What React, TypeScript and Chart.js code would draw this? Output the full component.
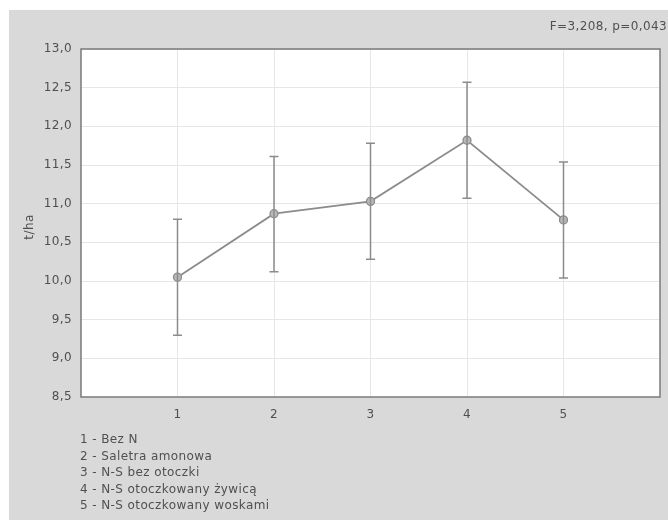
import React, { useEffect, useRef } from "react";
import { Chart, registerables } from "chart.js";

Chart.register(...registerables);

const categories = [1, 2, 3, 4, 5];
const means = [10.05, 10.87, 11.03, 11.82, 10.79];
const lowerBounds = [9.3, 10.12, 10.28, 11.07, 10.04];
const upperBounds = [10.8, 11.61, 11.78, 12.57, 11.54];
const legendLines = [
  "1 - Bez N",
  "2 - Saletra amonowa",
  "3 - N-S bez otoczki",
  "4 - N-S otoczkowany żywicą",
  "5 - N-S otoczkowany woskami",
];
const statsText = "F=3,208, p=0,043";
const yTitle = "t/ha";

const FONT = "'DejaVu Sans', sans-serif";

const decorPlugin = {
  id: "decor",
  beforeDraw(chart: any) {
    const { ctx, chartArea, width, height } = chart;
    ctx.letterSpacing = "0.4px";
    ctx.save();
    ctx.fillStyle = "#ffffff";
    ctx.fillRect(0, 0, width, height);
    ctx.fillStyle = "#d9d9d9";
    ctx.fillRect(9, 10, width - 9, height - 10);
    ctx.fillStyle = "#ffffff";
    ctx.fillRect(chartArea.left, chartArea.top, chartArea.right - chartArea.left, chartArea.bottom - chartArea.top);
    ctx.restore();
  },
  afterDatasetsDraw(chart: any) {
    const { ctx } = chart;
    const xs = chart.scales.x;
    const ys = chart.scales.y;
    ctx.save();
    ctx.strokeStyle = "#8c8c8c";
    ctx.lineWidth = 1.5;
    categories.forEach((c, i) => {
      const x = xs.getPixelForValue(c);
      const yt = ys.getPixelForValue(upperBounds[i]);
      const yb = ys.getPixelForValue(lowerBounds[i]);
      ctx.beginPath();
      ctx.moveTo(x, yt);
      ctx.lineTo(x, yb);
      ctx.moveTo(x - 4.5, yt);
      ctx.lineTo(x + 4.5, yt);
      ctx.moveTo(x - 4.5, yb);
      ctx.lineTo(x + 4.5, yb);
      ctx.stroke();
    });
    ctx.restore();
  },
  afterDraw(chart: any) {
    const { ctx, chartArea } = chart;
    ctx.save();
    ctx.strokeStyle = "#7a7a7a";
    ctx.lineWidth = 1.5;
    ctx.strokeRect(chartArea.left, chartArea.top, chartArea.right - chartArea.left, chartArea.bottom - chartArea.top);
    ctx.fillStyle = "#505050";
    ctx.font = `12px ${FONT}`;
    ctx.letterSpacing = "0.4px";
    ctx.textAlign = "right";
    ctx.textBaseline = "middle";
    ctx.fillText(statsText, 667, 27);
    ctx.textAlign = "left";
    legendLines.forEach((t, i) => {
      ctx.fillText(t, 80, 440 + i * 16.5);
    });
    ctx.translate(30, 227);
    ctx.rotate(-Math.PI / 2);
    ctx.textAlign = "center";
    ctx.fillText(yTitle, 0, 0);
    ctx.restore();
  },
};

export default function App() {
  const ref = useRef<HTMLCanvasElement>(null);
  useEffect(() => {
    document.body.style.margin = "0";
    const chart = new Chart(ref.current!, {
      type: "line",
      data: {
        datasets: [
          {
            data: categories.map((c, i) => ({ x: c, y: means[i] })),
            borderColor: "#8c8c8c",
            borderWidth: 1.8,
            pointRadius: 4,
            pointBackgroundColor: "#b8b8b8",
            pointBorderColor: "#8c8c8c",
            pointBorderWidth: 1.3,
            tension: 0,
          },
        ],
      },
      options: {
        animation: false,
        responsive: false,
        layout: { padding: { top: 49, right: 8, left: 0, bottom: 0 } },
        plugins: { legend: { display: false }, tooltip: { enabled: false } },
        scales: {
          x: {
            type: "linear",
            min: 0,
            max: 6,
            afterFit: (s: any) => {
              s.height = 123;
              s.paddingRight = 0;
              s.paddingLeft = 0;
            },
            ticks: {
              stepSize: 1,
              padding: 11,
              color: "#505050",
              font: { family: FONT, size: 12 },
              callback: (v: any) => (v >= 1 && v <= 5 ? String(v) : ""),
            },
            grid: {
              drawTicks: false,
              color: (c: any) => (c.tick && c.tick.value >= 1 && c.tick.value <= 5 ? "#e6e6e6" : "rgba(0,0,0,0)"),
            },
            border: { display: false },
          },
          y: {
            min: 8.5,
            max: 13,
            afterFit: (s: any) => {
              s.width = 81;
            },
            ticks: {
              stepSize: 0.5,
              padding: 9,
              color: "#505050",
              font: { family: FONT, size: 12 },
              callback: (v: any) => Number(v).toFixed(1).replace(".", ","),
            },
            grid: { drawTicks: false, color: "#e6e6e6" },
            border: { display: false },
          },
        },
      },
      plugins: [decorPlugin],
    });
    return () => chart.destroy();
  }, []);
  return <canvas ref={ref} width={668} height={520} style={{ display: "block" }} />;
}
